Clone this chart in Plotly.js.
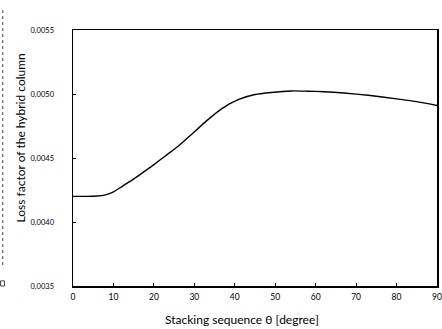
<!DOCTYPE html>
<html>
<head>
<meta charset="utf-8">
<script src="https://cdn.plot.ly/plotly-3.0.1.min.js"></script>
<style>html,body{margin:0;padding:0;background:#fff;}#chart{width:442px;height:329px;}</style>
</head>
<body>
<div id="chart"></div>
<script>
var theta = [0, 3, 6, 8, 10, 12, 14, 17, 20, 23, 26, 29, 33, 37, 41, 45, 49, 54, 58, 62, 67, 73, 80, 85, 90];
var lossFactor = [0.004200, 0.004200, 0.004203, 0.004212, 0.004235, 0.004275, 0.004315, 0.004380, 0.004448, 0.004520, 0.004592, 0.004675, 0.004790, 0.004890, 0.004958, 0.004996, 0.005012, 0.005024, 0.005022, 0.005018, 0.005008, 0.004990, 0.004962, 0.004940, 0.004910];
var xTicks = [0, 10, 20, 30, 40, 50, 60, 70, 80, 90];
var yTicks = [0.0035, 0.0040, 0.0045, 0.0050, 0.0055];
var yTickText = ["0.0035", "0.0040", "0.0045", "0.0050", "0.0055"];

var font = "Lato, 'DejaVu Sans', sans-serif";
var data = [{
  x: theta, y: lossFactor, type: "scatter", mode: "lines",
  line: {color: "#000", width: 1.4, shape: "spline", smoothing: 0.5},
  hoverinfo: "skip"
}];
var layout = {
  width: 442, height: 329,
  margin: {l: 73, r: 5, t: 30, b: 43},
  paper_bgcolor: "#fff", plot_bgcolor: "#fff",
  showlegend: false,
  font: {family: font, color: "#000"},
  xaxis: {
    range: [0, 90], tickvals: xTicks, ticks: "inside", ticklen: 3, tickcolor: "#000",
    showline: true, linecolor: "#000", linewidth: 1.5, mirror: true, ticklabeloverflow: "allow",
    showgrid: false, zeroline: false, tickfont: {size: 8.5, family: font}, ticklabelstandoff: 2
  },
  yaxis: {
    range: [0.0035, 0.0055], tickvals: yTicks, ticktext: yTickText, ticks: "inside", ticklen: 3, tickcolor: "#000",
    showline: true, linecolor: "#000", linewidth: 1.5, mirror: true, ticklabeloverflow: "allow",
    showgrid: false, zeroline: false, tickfont: {size: 7.5, family: font}, ticklabelstandoff: 16
  },
  annotations: [
    {text: "Stacking sequence θ [degree]", xref: "paper", yref: "paper", x: 0.465, y: -0.13,
     xanchor: "center", yanchor: "middle", showarrow: false, font: {size: 12, family: font}},
    {text: "Loss factor of the hybrid column", xref: "paper", yref: "paper", x: -0.143, y: 0.58,
     xanchor: "center", yanchor: "middle", textangle: -90, showarrow: false, font: {size: 12, family: font}}
  ],
  shapes: [
    {type: "line", xref: "paper", yref: "paper", x0: -0.193, x1: -0.193, y0: 0.082, y1: 1.078,
     line: {color: "#444", width: 1, dash: "dot"}},
    {type: "rect", xref: "paper", yref: "paper", x0: -0.199, x1: -0.188, y0: 0.0, y1: 0.02,
     line: {color: "#444", width: 1}}
  ]
};
Plotly.newPlot("chart", data, layout, {staticPlot: true, displayModeBar: false});
</script>
</body>
</html>
